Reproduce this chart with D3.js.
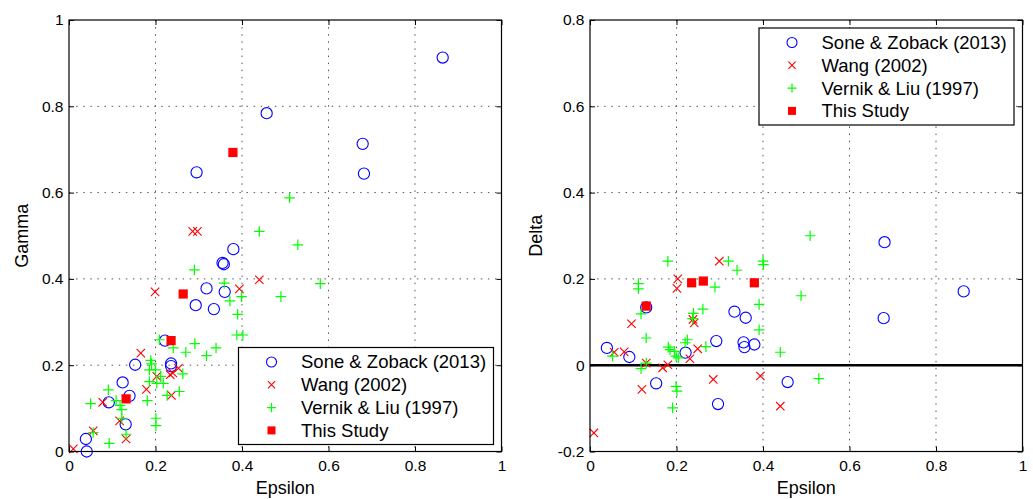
<!DOCTYPE html>
<html>
<head>
<meta charset="utf-8">
<script src="https://cdn.jsdelivr.net/npm/d3@7"></script>
<style>
body { margin: 0; background: #fff; }
text { font-family: "Liberation Sans", Arial, Helvetica, sans-serif; }
</style>
</head>
<body>
<script>
// Tick values and labels
var xTicks = [0, 0.2, 0.4, 0.6, 0.8, 1];
var xTickLabels = ["0", "0.2", "0.4", "0.6", "0.8", "1"];
var gammaTicks = [0, 0.2, 0.4, 0.6, 0.8, 1];
var gammaTickLabels = ["0", "0.2", "0.4", "0.6", "0.8", "1"];
var deltaTicks = [-0.2, 0, 0.2, 0.4, 0.6, 0.8];
var deltaTickLabels = ["-0.2", "0", "0.2", "0.4", "0.6", "0.8"];

var seriesNames = ["Sone & Zoback (2013)", "Wang (2002)", "Vernik & Liu (1997)", "This Study"];

// [epsilon, gamma]
var soneGamma = [[0.864,0.913],[0.457,0.784],[0.679,0.713],[0.682,0.644],[0.295,0.647],[0.380,0.469],
    [0.355,0.437],[0.358,0.434],[0.318,0.378],[0.360,0.370],[0.293,0.339],[0.335,0.330],[0.222,0.257],
    [0.153,0.201],[0.236,0.204],[0.236,0.198],[0.124,0.160],[0.140,0.129],[0.092,0.114],[0.131,0.063],
    [0.039,0.029],[0.041,0.000]];
var wangGamma = [[0.286,0.510],[0.297,0.510],[0.199,0.370],[0.440,0.398],[0.394,0.377],[0.166,0.228],
    [0.203,0.174],[0.179,0.144],[0.234,0.178],[0.240,0.182],[0.253,0.193],[0.237,0.130],[0.078,0.114],
    [0.117,0.071],[0.056,0.048],[0.132,0.029],[0.010,0.006]];
var vernikGamma = [[0.510,0.588],[0.440,0.510],[0.529,0.479],[0.290,0.421],[0.359,0.390],[0.581,0.389],
    [0.490,0.359],[0.399,0.359],[0.372,0.349],[0.390,0.318],[0.388,0.270],[0.402,0.270],[0.291,0.250],
    [0.340,0.240],[0.318,0.222],[0.241,0.240],[0.270,0.230],[0.209,0.259],[0.189,0.211],[0.191,0.203],
    [0.186,0.189],[0.200,0.189],[0.218,0.158],[0.212,0.174],[0.186,0.162],[0.203,0.158],[0.263,0.180],
    [0.255,0.139],[0.227,0.130],[0.181,0.118],[0.091,0.143],[0.050,0.111],[0.109,0.118],[0.118,0.107],
    [0.122,0.097],[0.122,0.077],[0.201,0.077],[0.201,0.060],[0.132,0.040],[0.093,0.019],[0.056,0.044]];
var studyGamma = [[0.132,0.122],[0.236,0.257],[0.264,0.365],[0.379,0.693]];

// [epsilon, delta]
var soneDelta = [[0.039,0.040],[0.091,0.019],[0.153,-0.042],[0.130,0.134],[0.221,0.029],[0.292,0.056],
    [0.296,-0.090],[0.334,0.124],[0.360,0.110],[0.355,0.053],[0.357,0.042],[0.380,0.048],[0.457,-0.039],
    [0.679,0.109],[0.681,0.285],[0.864,0.171]];
var wangDelta = [[0.009,-0.157],[0.096,0.096],[0.079,0.031],[0.056,0.030],[0.120,-0.056],[0.130,0.005],
    [0.168,-0.006],[0.180,0.001],[0.201,0.178],[0.203,0.200],[0.238,0.106],[0.241,0.098],[0.231,0.015],
    [0.249,0.038],[0.285,-0.033],[0.299,0.241],[0.394,-0.025],[0.440,-0.095]];
var vernikDelta = [[0.509,0.300],[0.180,0.241],[0.320,0.241],[0.340,0.220],[0.400,0.241],[0.401,0.233],
    [0.112,0.189],[0.112,0.177],[0.289,0.181],[0.488,0.161],[0.391,0.141],[0.261,0.130],[0.239,0.120],
    [0.237,0.108],[0.118,0.119],[0.391,0.082],[0.130,0.063],[0.225,0.059],[0.220,0.052],[0.181,0.042],
    [0.185,0.036],[0.268,0.043],[0.195,0.032],[0.199,0.021],[0.204,0.017],[0.052,0.021],[0.440,0.030],
    [0.130,0.005],[0.118,-0.008],[0.199,-0.049],[0.201,-0.060],[0.191,-0.099],[0.529,-0.031]];
var studyDelta = [[0.130,0.137],[0.235,0.191],[0.262,0.195],[0.380,0.191]];

// Define SVG
var svg = d3.select("body")
    .append("svg")
    .attr("width", 1033)
    .attr("height", 499)
    .style("background", "#fff");

var plotTop = 20, plotBottom = 451.5, plotWidth = 432.5;

// Marker drawing helpers (size = half width)
function drawMarkers(g, data, type, x, y, s) {
    var sel = g.append("g").selectAll("g").data(data).enter().append("g")
        .attr("transform", d => `translate(${x(d[0])},${y(d[1])})`);
    addMarker(sel, type, s);
}

function addMarker(sel, type, s) {
    if (type == "circle") {
        sel.append("circle").attr("r", s).attr("fill", "none")
            .attr("stroke", "#0000ff").attr("stroke-width", 1.1);
    } else if (type == "x") {
        sel.append("path").attr("d", `M${-s},${-s}L${s},${s}M${-s},${s}L${s},${-s}`)
            .attr("stroke", "#ff0000").attr("stroke-width", 1.1);
    } else if (type == "plus") {
        sel.append("path").attr("d", `M${-s},0L${s},0M0,${-s}L0,${s}`)
            .attr("stroke", "#00ff00").attr("stroke-width", 1.2);
    } else {
        sel.append("rect").attr("x", -s).attr("y", -s).attr("width", 2 * s).attr("height", 2 * s)
            .attr("fill", "#ff0000");
    }
}

function drawPanel(p) {
    var x = d3.scaleLinear().domain([0, 1]).range([p.left, p.left + plotWidth]);
    var y = d3.scaleLinear().domain(p.yDomain).range([plotBottom, plotTop]);
    var g = svg.append("g");

    // Dotted grid at interior ticks
    g.append("g").selectAll("line")
        .data(xTicks.slice(1, -1)).enter().append("line")
        .attr("x1", d => x(d)).attr("x2", d => x(d))
        .attr("y1", plotTop).attr("y2", plotBottom)
        .attr("stroke", "#555").attr("stroke-dasharray", "1.5,5.6");
    g.append("g").selectAll("line")
        .data(p.yTicks.slice(1, -1)).enter().append("line")
        .attr("y1", d => y(d)).attr("y2", d => y(d))
        .attr("x1", p.left).attr("x2", p.left + plotWidth)
        .attr("stroke", "#555").attr("stroke-dasharray", "1.5,5.6");

    // Zero line
    if (p.zeroLine) {
        g.append("line")
            .attr("x1", p.left).attr("x2", p.left + plotWidth)
            .attr("y1", y(0)).attr("y2", y(0))
            .attr("stroke", "#000").attr("stroke-width", 2.5);
    }

    // Series
    drawMarkers(g, p.series[0], "circle", x, y, 5.6);
    drawMarkers(g, p.series[1], "x", x, y, 4.2);
    drawMarkers(g, p.series[2], "plus", x, y, 5.3);
    drawMarkers(g, p.series[3], "square", x, y, 4.6);

    // Axes with inward ticks on all four sides
    var fontSize = 15.5;
    g.append("g").attr("transform", `translate(0,${plotBottom})`)
        .call(d3.axisBottom(x).tickValues(xTicks).tickFormat((d, i) => xTickLabels[i])
            .tickSizeInner(-5).tickSizeOuter(0).tickPadding(8.5))
        .call(a => a.select(".domain").remove())
        .selectAll("text").attr("font-size", fontSize).attr("font-family", null).attr("fill", "#000");
    g.append("g").attr("transform", `translate(0,${plotTop})`)
        .call(d3.axisTop(x).tickValues(xTicks).tickFormat("").tickSizeInner(-5).tickSizeOuter(0))
        .call(a => a.select(".domain").remove());
    g.append("g").attr("transform", `translate(${p.left},0)`)
        .call(d3.axisLeft(y).tickValues(p.yTicks).tickFormat((d, i) => p.yTickLabels[i])
            .tickSizeInner(-5).tickSizeOuter(0).tickPadding(5.5))
        .call(a => a.select(".domain").remove())
        .selectAll("text").attr("font-size", fontSize).attr("font-family", null).attr("fill", "#000");
    g.append("g").attr("transform", `translate(${p.left + plotWidth},0)`)
        .call(d3.axisRight(y).tickValues(p.yTicks).tickFormat("").tickSizeInner(-5).tickSizeOuter(0))
        .call(a => a.select(".domain").remove());
    g.selectAll(".tick line").attr("stroke", "#000");

    // Frame
    g.append("rect")
        .attr("x", p.left).attr("y", plotTop)
        .attr("width", plotWidth).attr("height", plotBottom - plotTop)
        .attr("fill", "none").attr("stroke", "#000").attr("stroke-width", 1.2);

    // Axis labels
    g.append("text")
        .attr("x", p.left + plotWidth / 2).attr("y", 494)
        .attr("text-anchor", "middle").attr("font-size", 18).text("Epsilon");
    g.append("text")
        .attr("transform", `translate(${p.left - p.labelOffset},${(plotTop + plotBottom) / 2}) rotate(-90)`)
        .attr("text-anchor", "middle").attr("font-size", 18).text(p.yLabel);

    // Legend
    var lg = g.append("g").attr("transform", `translate(${p.legend[0]},${p.legend[1]})`);
    lg.append("rect").attr("width", 255).attr("height", 97)
        .attr("fill", "#fff").attr("stroke", "#000").attr("stroke-width", 1.2);
    var types = ["circle", "x", "plus", "square"];
    var sizes = [5, 3.6, 4.6, 4];
    var rows = lg.selectAll("g.row").data(seriesNames).enter().append("g")
        .attr("class", "row")
        .attr("transform", (d, i) => `translate(0,${14.5 + i * 22.8})`);
    rows.each(function(d, i) {
        var m = d3.select(this).append("g").attr("transform", "translate(33,0)");
        addMarker(m, types[i], sizes[i]);
    });
    rows.append("text").attr("x", 62.5).attr("dy", "0.35em")
        .attr("font-size", 18.5).text(d => d);
}

drawPanel({
    left: 69,
    yDomain: [0, 1],
    yTicks: gammaTicks,
    yTickLabels: gammaTickLabels,
    yLabel: "Gamma",
    labelOffset: 41,
    series: [soneGamma, wangGamma, vernikGamma, studyGamma],
    legend: [238.5, 347.5]
});

drawPanel({
    left: 590,
    yDomain: [-0.2, 0.8],
    yTicks: deltaTicks,
    yTickLabels: deltaTickLabels,
    yLabel: "Delta",
    labelOffset: 48,
    zeroLine: true,
    series: [soneDelta, wangDelta, vernikDelta, studyDelta],
    legend: [759, 28]
});
</script>
</body>
</html>
